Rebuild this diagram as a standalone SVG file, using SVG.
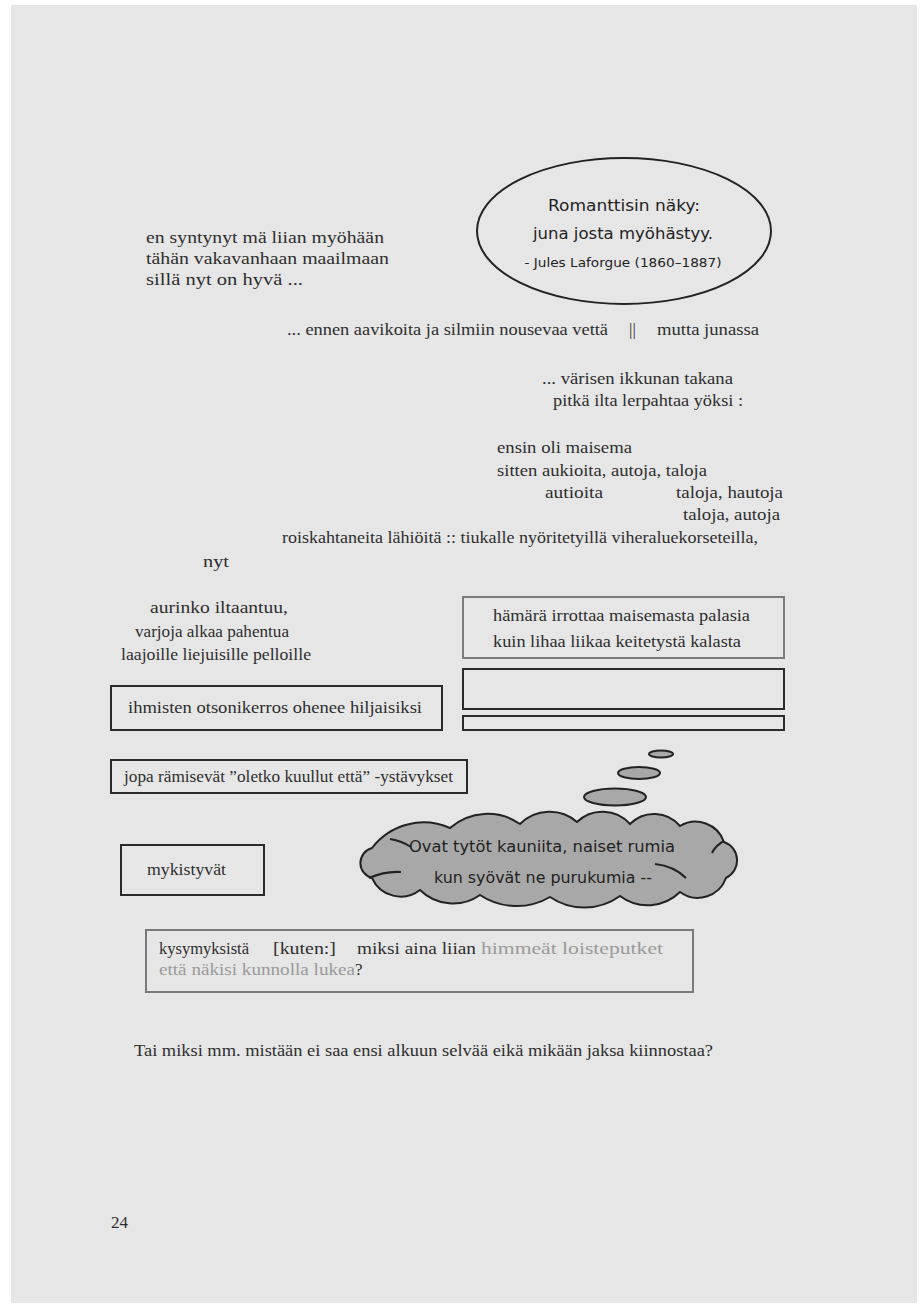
<svg xmlns="http://www.w3.org/2000/svg" width="922" height="1308" viewBox="0 0 922 1308">
<style>
.t{font-family:"Liberation Serif","DejaVu Serif",serif;font-size:17px;fill:#2e2e2e}
.g{fill:#9a9a9a}
.c{font-family:"DejaVu Sans","Liberation Sans",sans-serif;fill:#222}
.bd{fill:none;stroke:#2b2b2b;stroke-width:2}
.bg{fill:none;stroke:#7a7a7a;stroke-width:2}
.bub{fill:#a8a8a8;stroke:#222;stroke-width:2}
</style>
<rect x="0" y="0" width="922" height="1308" fill="#ffffff"/>
<rect x="11" y="5" width="906" height="1298" fill="#e6e6e6"/>

<g id="stanza1">
<text class="t" x="146" y="243" textLength="238" lengthAdjust="spacingAndGlyphs">en syntynyt mä liian myöhään</text>
<text class="t" x="146" y="264" textLength="243" lengthAdjust="spacingAndGlyphs">tähän vakavanhaan maailmaan</text>
<text class="t" x="146" y="285" textLength="157" lengthAdjust="spacingAndGlyphs">sillä nyt on hyvä ...</text>
</g>

<g id="quote">
<ellipse cx="624" cy="231" rx="147" ry="73" fill="none" stroke="#222" stroke-width="2"/>
<text class="c" x="624" y="211" font-size="16" text-anchor="middle" textLength="152" lengthAdjust="spacingAndGlyphs">Romanttisin näky:</text>
<text class="c" x="623" y="239" font-size="16" text-anchor="middle" textLength="180" lengthAdjust="spacingAndGlyphs">juna josta myöhästyy.</text>
<text class="c" x="623" y="267" font-size="12.5" text-anchor="middle" textLength="197" lengthAdjust="spacingAndGlyphs">- Jules Laforgue (1860–1887)</text>
</g>

<g id="line-junassa">
<text class="t" x="287" y="335" textLength="321" lengthAdjust="spacingAndGlyphs">... ennen aavikoita ja silmiin nousevaa vettä</text>
<text class="t" x="629" y="335">||</text>
<text class="t" x="657" y="335" textLength="102" lengthAdjust="spacingAndGlyphs">mutta junassa</text>
</g>

<g id="stanza-ikkuna">
<text class="t" x="542" y="384" textLength="191" lengthAdjust="spacingAndGlyphs">... värisen ikkunan takana</text>
<text class="t" x="553" y="406" textLength="190" lengthAdjust="spacingAndGlyphs">pitkä ilta lerpahtaa yöksi :</text>
</g>

<g id="stanza-maisema">
<text class="t" x="497" y="453" textLength="135" lengthAdjust="spacingAndGlyphs">ensin oli maisema</text>
<text class="t" x="497" y="476" textLength="210" lengthAdjust="spacingAndGlyphs">sitten aukioita, autoja, taloja</text>
<text class="t" x="545" y="498" textLength="58" lengthAdjust="spacingAndGlyphs">autioita</text>
<text class="t" x="676" y="498" textLength="107" lengthAdjust="spacingAndGlyphs">taloja, hautoja</text>
<text class="t" x="683" y="520" textLength="97" lengthAdjust="spacingAndGlyphs">taloja, autoja</text>
<text class="t" x="282" y="543" textLength="476" lengthAdjust="spacingAndGlyphs">roiskahtaneita lähiöitä :: tiukalle nyöritetyillä viheraluekorseteilla,</text>
<text class="t" x="203" y="567" textLength="26" lengthAdjust="spacingAndGlyphs">nyt</text>
</g>

<g id="stanza-aurinko">
<text class="t" x="219" y="613" text-anchor="middle" textLength="138" lengthAdjust="spacingAndGlyphs">aurinko iltaantuu,</text>
<text class="t" x="212" y="637" text-anchor="middle" textLength="154" lengthAdjust="spacingAndGlyphs">varjoja alkaa pahentua</text>
<text class="t" x="216" y="660" text-anchor="middle" textLength="190" lengthAdjust="spacingAndGlyphs">laajoille liejuisille pelloille</text>
</g>

<g id="box-hamara">
<rect class="bg" x="463" y="597" width="321" height="61"/>
<text class="t" x="493" y="621" textLength="257" lengthAdjust="spacingAndGlyphs">hämärä irrottaa maisemasta palasia</text>
<text class="t" x="493" y="647" textLength="248" lengthAdjust="spacingAndGlyphs">kuin lihaa liikaa keitetystä kalasta</text>
</g>

<g id="box-empty1"><rect class="bd" x="463" y="669" width="321" height="40"/></g>
<g id="box-empty2"><rect class="bd" x="463" y="716" width="321" height="14"/></g>

<g id="box-otsoni">
<rect class="bd" x="111" y="686" width="331" height="44"/>
<text class="t" x="128" y="713" textLength="294" lengthAdjust="spacingAndGlyphs">ihmisten otsonikerros ohenee hiljaisiksi</text>
</g>

<g id="box-jopa">
<rect class="bd" x="111" y="760" width="356" height="33"/>
<text class="t" x="124" y="782" textLength="329" lengthAdjust="spacingAndGlyphs">jopa rämisevät ”oletko kuullut että” -ystävykset</text>
</g>

<g id="box-mykistyvat">
<rect class="bd" x="121" y="845" width="143" height="50"/>
<text class="t" x="147" y="875" textLength="79" lengthAdjust="spacingAndGlyphs">mykistyvät</text>
</g>

<g id="thought-cloud">
<ellipse class="bub" cx="661" cy="754" rx="12" ry="3.5" stroke-width="1.8"/>
<ellipse class="bub" cx="639" cy="773" rx="21" ry="6"/>
<ellipse class="bub" cx="615" cy="797" rx="31" ry="8.5"/>
<path class="bub" d="M372,848 A65,65 0 0 1 450,828 A57,57 0 0 1 520,824 A42,42 0 0 1 577,822 A37,37 0 0 1 630,824 A34,34 0 0 1 680,826 A30,30 0 0 1 724,842 A19.5,19.5 0 0 1 726,878 A30,30 0 0 1 680,892 A46,46 0 0 1 620,896 A61,61 0 0 1 550,897 A66,66 0 0 1 480,895 A47,47 0 0 1 420,890 A31.5,31.5 0 0 1 372,878 A15.5,15.5 0 0 1 372,848 Z"/>
<path d="M390,839 Q402,841 411,847 M369,878 Q385,871 401,872 M655,864 Q674,866 686,878 M712,853 Q716,845 724,841" fill="none" stroke="#222" stroke-width="2"/>
<text class="c" x="542" y="852" font-size="15" text-anchor="middle" textLength="266" lengthAdjust="spacingAndGlyphs">Ovat tytöt kauniita, naiset rumia</text>
<text class="c" x="543" y="883" font-size="15" text-anchor="middle" textLength="218" lengthAdjust="spacingAndGlyphs">kun syövät ne purukumia --</text>
</g>

<g id="box-kysymyksista">
<rect class="bg" x="146" y="930" width="547" height="62"/>
<text class="t" x="159" y="954" textLength="90" lengthAdjust="spacingAndGlyphs">kysymyksistä</text>
<text class="t" x="273" y="954" textLength="63" lengthAdjust="spacingAndGlyphs">[kuten:]</text>
<text class="t" x="357" y="954" textLength="119" lengthAdjust="spacingAndGlyphs">miksi aina liian</text>
<text class="t g" x="481" y="954" textLength="182" lengthAdjust="spacingAndGlyphs">himmeät loisteputket</text>
<text class="t" x="159" y="975"><tspan class="g" textLength="196" lengthAdjust="spacingAndGlyphs">että näkisi kunnolla lukea</tspan>?</text>
</g>

<g id="closing">
<text class="t" x="134" y="1056" textLength="579" lengthAdjust="spacingAndGlyphs">Tai miksi mm. mistään ei saa ensi alkuun selvää eikä mikään jaksa kiinnostaa?</text>
</g>

<g id="page-number">
<text class="t" x="111" y="1228">24</text>
</g>
<g id="connectors"/>
</svg>
